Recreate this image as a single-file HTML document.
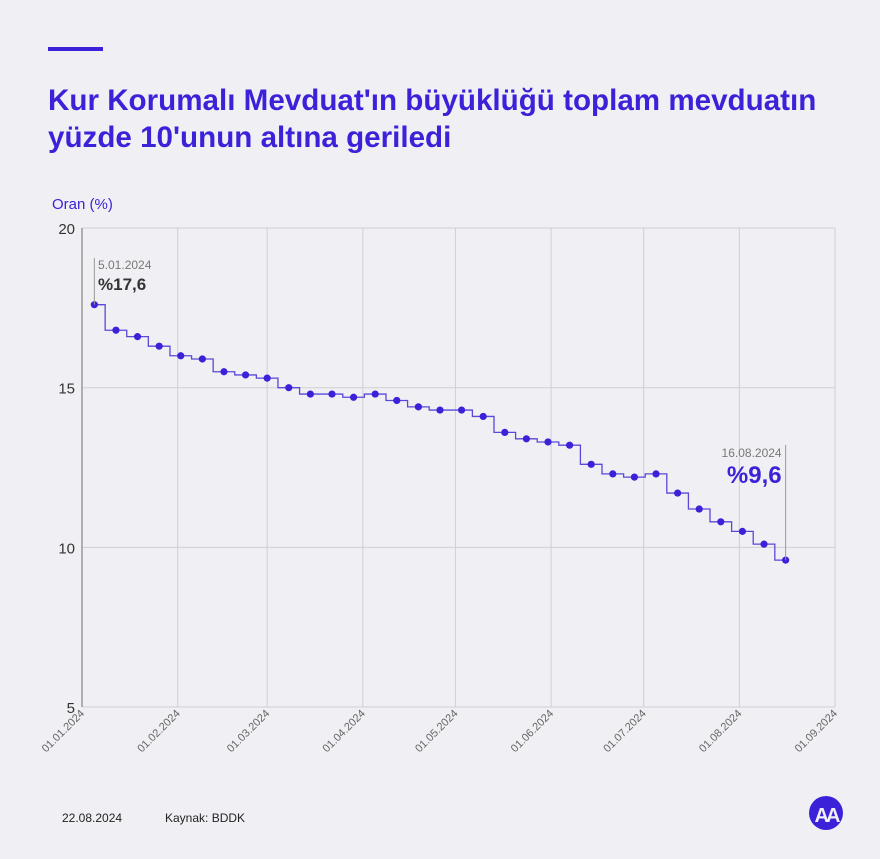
<!DOCTYPE html>
<html><head><meta charset="utf-8"><style>
body{margin:0;background:#f0f0f4;}
svg{display:block;font-family:"Liberation Sans",sans-serif;}
</style></head><body>
<svg id="s" width="880" height="859" viewBox="0 0 880 859" xmlns="http://www.w3.org/2000/svg">
<rect width="880" height="859" fill="#f0f0f4"/>
<rect x="48" y="47" width="55" height="4" fill="#3b22d9"/>
<text x="48" y="110" font-size="29.6" font-weight="bold" fill="#3b22d9">Kur Korumalı Mevduat'ın büyüklüğü toplam mevduatın</text>
<text x="48" y="147" font-size="29.6" font-weight="bold" fill="#3b22d9">yüzde 10'unun altına geriledi</text>
<text x="52" y="209" font-size="15" fill="#3b22d9">Oran (%)</text>
<g id="g"></g>
<text x="62" y="822" font-size="12" fill="#222">22.08.2024</text>
<text x="165" y="822" font-size="12" fill="#222">Kaynak: BDDK</text>
<circle cx="826" cy="813" r="17" fill="#3b22d9"/>
<text x="826" y="822" font-size="20" font-weight="bold" fill="#f0f0f4" text-anchor="middle" letter-spacing="-3">AA</text>
</svg>
<script>
var g=document.getElementById('g'),h='';
function Y(v){return 707-(v-5)*31.93;}
var x0=82,ppd=753/244;
[5,10,15,20].forEach(function(v){var y=Y(v);
 h+='<line x1="82" x2="835" y1="'+y+'" y2="'+y+'" stroke="#cfcfd4" stroke-width="1"/>';
 h+='<text x="75" y="'+(y+6)+'" font-size="15" fill="#333" text-anchor="end">'+v+'</text>';});
var days=[0,31,60,91,121,152,182,213,244],lab=['01.01.2024','01.02.2024','01.03.2024','01.04.2024','01.05.2024','01.06.2024','01.07.2024','01.08.2024','01.09.2024'];
days.forEach(function(d,i){var x=x0+d*ppd;
 if(i>0)h+='<line x1="'+x+'" x2="'+x+'" y1="228" y2="707" stroke="#cfcfd4"/>';
 h+='<text transform="translate('+(x+3)+',714) rotate(-45)" font-size="11" fill="#666" text-anchor="end">'+lab[i]+'</text>';});
h+='<line x1="82" x2="82" y1="228" y2="707" stroke="#999" stroke-width="1.5"/>';
var v=[17.6,16.8,16.6,16.3,16.0,15.9,15.5,15.4,15.3,15.0,14.8,14.8,14.7,14.8,14.6,14.4,14.3,14.3,14.1,13.6,13.4,13.3,13.2,12.6,12.3,12.2,12.3,11.7,11.2,10.8,10.5,10.1,9.6];
function X(n){return x0+(4+7*n)*ppd;}
var p='M'+X(0)+' '+Y(v[0]);
for(var n=1;n<v.length;n++){var m=(X(n-1)+X(n))/2;p+=' H'+m+' V'+Y(v[n])+' H'+X(n);}
h+='<path d="'+p+'" fill="none" stroke="#5a48d6" stroke-width="1.3"/>';
v.forEach(function(a,n){h+='<circle cx="'+X(n)+'" cy="'+Y(a)+'" r="3.6" fill="#3b22d9"/>';});
h+='<line x1="'+X(0)+'" x2="'+X(0)+'" y1="258" y2="'+Y(17.6)+'" stroke="#999"/>';
h+='<text x="98" y="269" font-size="12" fill="#777">5.01.2024</text><text x="98" y="290" font-size="17" font-weight="bold" fill="#333">%17,6</text>';
var xl=X(32);
h+='<line x1="'+xl+'" x2="'+xl+'" y1="445" y2="'+Y(9.6)+'" stroke="#999"/>';
h+='<text x="'+(xl-4)+'" y="457" font-size="12" fill="#777" text-anchor="end">16.08.2024</text><text x="'+(xl-4)+'" y="483" font-size="24" font-weight="bold" fill="#3b22d9" text-anchor="end">%9,6</text>';
g.innerHTML=h;
</script>
</body></html>
